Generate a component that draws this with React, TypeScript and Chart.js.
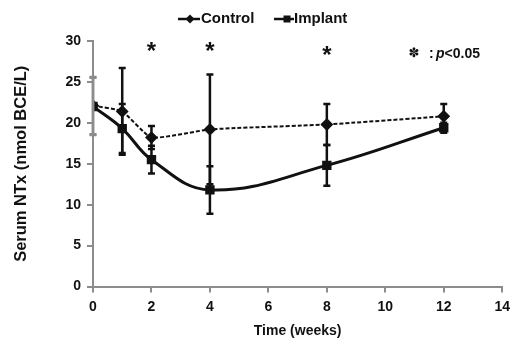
import React, { useEffect, useRef } from "react";
import { Chart, registerables } from "chart.js";
Chart.register(...registerables);

const weeks = [0, 1, 2, 4, 8, 12];
const controlValues = [22.1, 21.4, 18.2, 19.2, 19.8, 20.8];
const controlErr = [3.5, 5.3, 1.4, 6.7, 2.5, 1.5];
const implantValues = [22.0, 19.3, 15.5, 11.8, 14.8, 19.4];
const implantErr = [3.5, 3.0, 1.7, 2.9, 2.5, 0.6];
const significantWeeks = [2, 4, 8];
const significantHeights = [29.1, 29.1, 28.6];
const seriesNames = ["Control", "Implant"];
const yTitle = "Serum NTx (nmol BCE/L)";
const xTitle = "Time (weeks)";

const FONT = "'Liberation Sans', Arial, sans-serif";

const errorBarPlugin = {
  id: "errorBars",
  afterDatasetsDraw(chart: any) {
    const { ctx, scales } = chart;
    const xs = scales.x;
    const ys = scales.y;
    const sets = [
      { v: controlValues, e: controlErr },
      { v: implantValues, e: implantErr },
    ];
    ctx.save();
    ctx.lineWidth = 2.5;
    sets.forEach((s) => {
      weeks.forEach((w, i) => {
        ctx.strokeStyle = w === xs.min ? "#8c8c8c" : "#111";
        const x = xs.getPixelForValue(w);
        const y1 = ys.getPixelForValue(s.v[i] + s.e[i]);
        const y2 = ys.getPixelForValue(s.v[i] - s.e[i]);
        ctx.beginPath();
        ctx.moveTo(x, y1);
        ctx.lineTo(x, y2);
        ctx.moveTo(x - 3.5, y1);
        ctx.lineTo(x + 3.5, y1);
        ctx.moveTo(x - 3.5, y2);
        ctx.lineTo(x + 3.5, y2);
        ctx.stroke();
      });
    });
    ctx.strokeStyle = "#111";
    // significance asterisks
    ctx.fillStyle = "#111";
    ctx.font = `bold 24px ${FONT}`;
    ctx.textAlign = "center";
    ctx.textBaseline = "middle";
    significantWeeks.forEach((w, i) => {
      ctx.fillText("*", xs.getPixelForValue(w), ys.getPixelForValue(significantHeights[i]) + 4);
    });
    // p-value note
    ctx.font = `bold 13px 'DejaVu Sans', sans-serif`;
    ctx.fillText("\u273D", 414, 54);
    ctx.textAlign = "left";
    ctx.font = `bold 14px ${FONT}`;
    ctx.fillText(":", 429, 54);
    ctx.font = `bold italic 14px ${FONT}`;
    ctx.fillText("p", 436, 54);
    const pw = ctx.measureText("p").width;
    ctx.font = `bold 14px ${FONT}`;
    ctx.fillText("<0.05", 436 + pw, 54);

    // legend
    const ly = 19;
    ctx.lineWidth = 2.5;
    ctx.beginPath();
    ctx.moveTo(178, ly);
    ctx.lineTo(200, ly);
    ctx.stroke();
    ctx.beginPath();
    ctx.moveTo(190, ly - 4.5);
    ctx.lineTo(194.5, ly);
    ctx.lineTo(190, ly + 4.5);
    ctx.lineTo(185.5, ly);
    ctx.closePath();
    ctx.fill();
    ctx.font = `bold 15px ${FONT}`;
    ctx.fillText(seriesNames[0], 201, ly);
    ctx.beginPath();
    ctx.moveTo(274, ly);
    ctx.lineTo(294, ly);
    ctx.stroke();
    ctx.fillRect(283.5, ly - 3.5, 7, 7);
    ctx.fillText(seriesNames[1], 294, ly);
    ctx.restore();
  },
};

export default function App() {
  const ref = useRef<HTMLCanvasElement>(null);
  useEffect(() => {
    if (!ref.current) return;
    const chart = new Chart(ref.current, {
      type: "line",
      data: {
        datasets: [
          {
            label: seriesNames[0],
            data: weeks.map((w, i) => ({ x: w, y: controlValues[i] })),
            borderColor: "#111",
            backgroundColor: "#111",
            borderWidth: 2,
            borderDash: [4, 2],
            tension: 0.15,
            pointStyle: "rectRot",
            pointRadius: 5,
          },
          {
            label: seriesNames[1],
            data: weeks.map((w, i) => ({ x: w, y: implantValues[i] })),
            borderColor: "#111",
            backgroundColor: "#111",
            borderWidth: 3,
            tension: 0.4,
            pointStyle: "rect",
            pointRadius: 4.5,
          },
        ],
      },
      options: {
        responsive: false,
        animation: false,
        layout: { padding: { top: 41, right: 13, left: 0, bottom: 0 } },
        plugins: { legend: { display: false }, tooltip: { enabled: false } },
        scales: {
          x: {
            type: "linear",
            min: 0,
            max: 14,
            ticks: { stepSize: 2, color: "#111", font: { family: FONT, size: 14, weight: "bold" }, padding: 6 },
            grid: { drawOnChartArea: false, drawTicks: true, tickLength: 6, color: "#8c8c8c", lineWidth: 2 },
            border: { color: "#8c8c8c", width: 2 },
            title: { display: true, text: xTitle, color: "#111", font: { family: FONT, size: 14, weight: "bold" }, padding: { top: 0, bottom: 7 } },
            afterFit: (s: any) => { s.height = 347 - 286.5; },
          },
          y: {
            min: 0,
            max: 30,
            z: 1,
            ticks: { stepSize: 5, color: "#111", font: { family: FONT, size: 14, weight: "bold" }, padding: 6 },
            grid: { drawOnChartArea: false, drawTicks: true, tickLength: 6, color: "#8c8c8c", lineWidth: 2 },
            border: { color: "#8c8c8c", width: 2 },
            title: { display: true, text: yTitle, color: "#111", font: { family: FONT, size: 16.5, weight: "bold" }, padding: { top: 12, bottom: 10 } },
            afterFit: (s: any) => { s.width = 93; },
          },
        },
      } as any,
      plugins: [errorBarPlugin],
    });
    return () => chart.destroy();
  }, []);
  return (
    <div style={{ position: "absolute", left: 0, top: 0, width: 516, height: 347, background: "#fff" }}>
      <canvas ref={ref} width={516} height={347} />
    </div>
  );
}
